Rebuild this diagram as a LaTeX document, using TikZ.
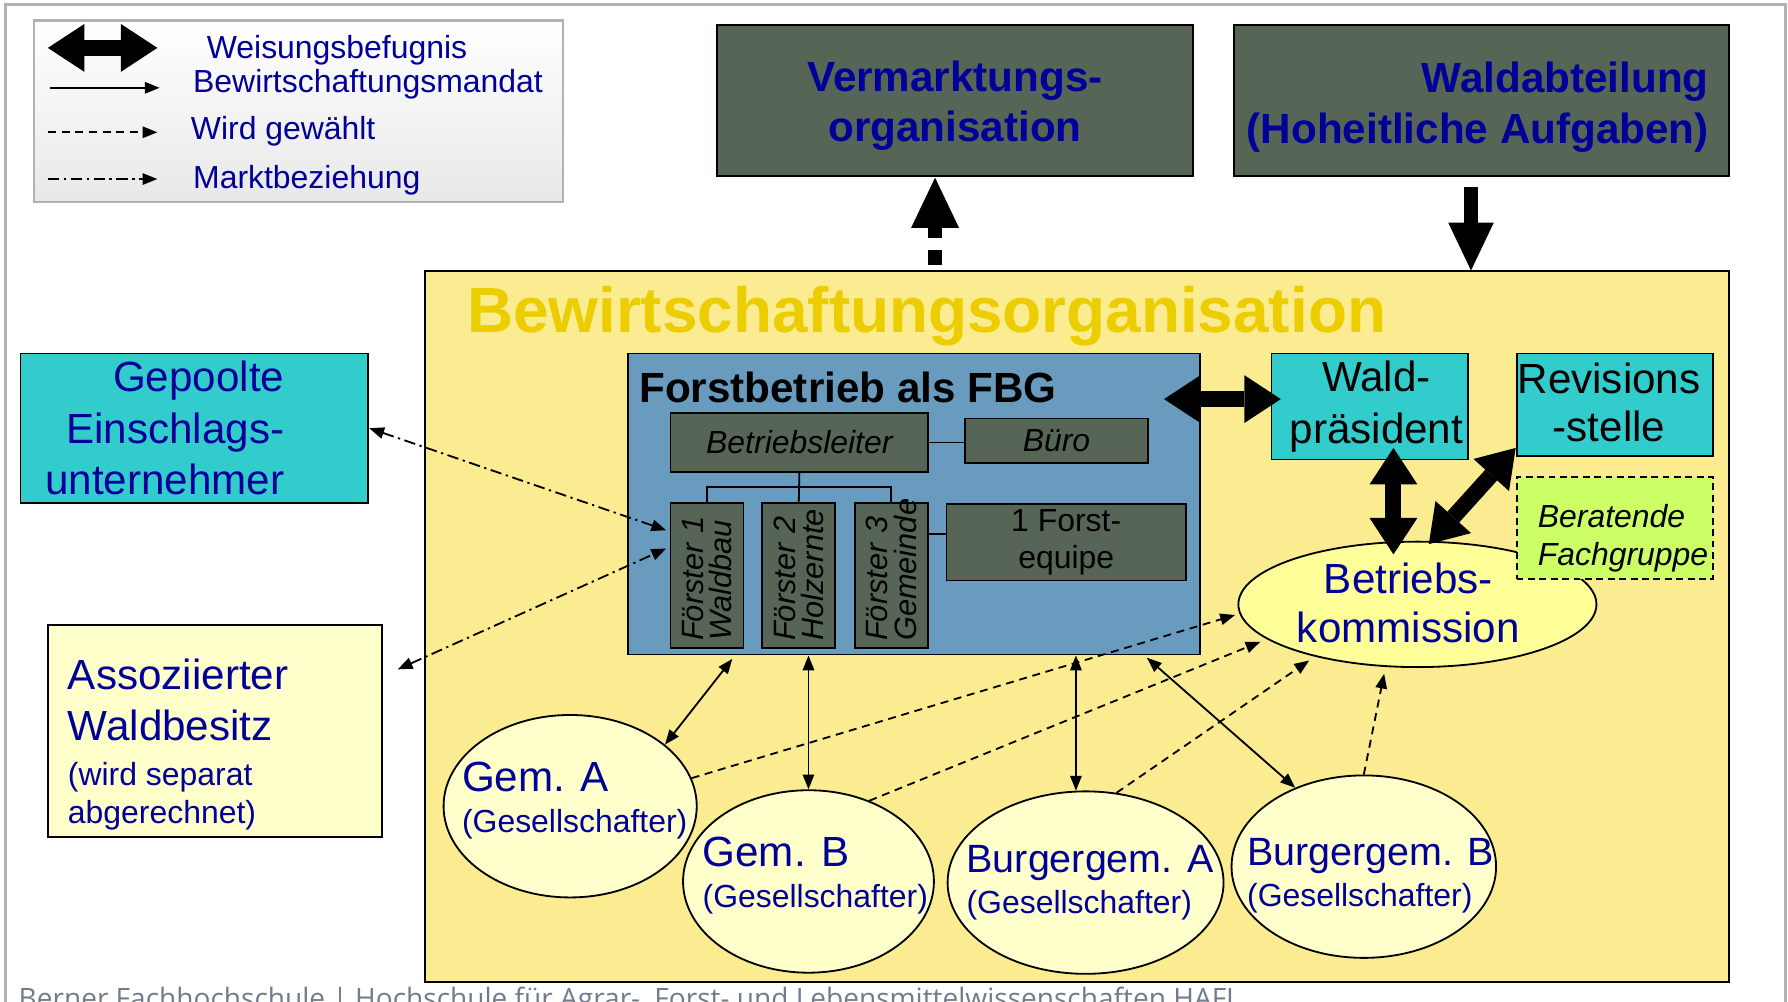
\documentclass[tikz,border=0pt]{standalone}
\usepackage{fontspec}
\setmainfont{Liberation Sans}
\newfontfamily\footfont{Open Sans}
\usetikzlibrary{arrows.meta, shapes.geometric, calc, positioning}

\definecolor{navy}{RGB}{0,0,153}
\definecolor{boxgreen}{RGB}{87,101,87}
\definecolor{fbblue}{RGB}{104,155,190}
\definecolor{cyanbox}{RGB}{51,204,204}
\definecolor{bwoyellow}{RGB}{251,236,146}
\definecolor{titleyellow}{RGB}{235,205,0}
\definecolor{paleyellow}{RGB}{255,255,204}
\definecolor{bkyellow}{RGB}{255,255,153}
\definecolor{limegreen}{RGB}{204,255,102}
\definecolor{footgray}{RGB}{112,124,138}

\newcommand{\bigtxt}{\fontsize{18.5}{22.5}\selectfont}
\newcommand{\smalltxt}{\fontsize{14}{16.5}\selectfont}
\newcommand{\headtxt}{\bfseries\fontsize{18.5}{22}\selectfont}
\newcommand{\titletxt}{\bfseries\fontsize{28}{32}\selectfont}

\tikzset{
  box/.style={draw, line width=0.8pt, inner sep=0pt},
  darkbox/.style={box, fill=boxgreen},
  cyanbox/.style={box, fill=cyanbox},
  gemell/.style={box, ellipse, fill=paleyellow, minimum height=80pt},
  gemtext/.style={align=left, inner sep=0pt, text=navy, font=\fontsize{14}{18}\selectfont},
  foerster/.style={darkbox, rotate=90, minimum width=63.5pt, minimum height=32pt,
    text width=57.5pt, align=left, inner xsep=3pt, font=\itshape\fontsize{13.5}{12.5}\selectfont},
  legtext/.style={anchor=west, inner sep=0pt, text=navy, font=\smalltxt},
  mandat/.style={line width=0.8pt},
  wahl/.style={line width=0.8pt, dash pattern=on 3.5pt off 2.5pt},
  markt/.style={line width=0.8pt, dash pattern=on 5pt off 2pt on 1pt off 2pt},
  weisung/.style={line width=7pt,
    {Triangle[width=21pt,length=16pt,line width=0pt]}-{Triangle[width=21pt,length=16pt,line width=0pt]}},
}

\begin{document}
\begin{tikzpicture}[x=0.5pt, y=-0.5pt, >={Triangle[width=5pt,length=6.5pt]}]
\path[use as bounding box, clip] (0,0) rectangle (1568,878);
\draw[gray!60, line width=1.2pt] (5,900) -- (5,4) -- (1566,4) -- (1566,900);

% legend
\node[draw=gray!60, line width=1pt, top color=white, bottom color=gray!18,
  minimum width=232pt, minimum height=79.5pt] (leg) at (262,97.5) {};
\coordinate (w1) at (42,42);  \coordinate (w2) at (138,42);
\coordinate (m1) at (44,77);  \coordinate (m2) at (140,77);
\coordinate (g1) at (42,116); \coordinate (g2) at (138,116);
\coordinate (k1) at (42,157); \coordinate (k2) at (138,157);
\draw[weisung] (w1) -- (w2);
\draw[mandat, ->] (m1) -- (m2);
\draw[wahl, ->] (g1) -- (g2);
\draw[markt, ->] (k1) -- (k2);
\node[legtext] (lw) at (181,44) {Weisungsbefugnis};
\node[legtext] (lm) at (169,74) {Bewirtschaftungsmandat};
\node[legtext] (lg) at (167,115) {Wird gewählt};
\node[legtext] (lk) at (169,158) {Marktbeziehung};

% top boxes
\node[darkbox, minimum width=208.5pt, minimum height=66pt] (vm) at (837.5,88) {};
\node[align=center, inner sep=0pt, text=navy, font=\headtxt] (vmt)
  at ($(vm)+(0,5)$) {Vermarktungs-\\organisation};
\node[darkbox, minimum width=217pt, minimum height=66pt] (wa) at (1299,88) {};
\node[anchor=east, align=right, inner sep=0pt, text=navy, font=\headtxt] (wat)
  at ($(wa.east)+(-18,6)$) {Waldabteilung\\(Hoheitliche Aufgaben)};

% Bewirtschaftungsorganisation
\node[box, fill=bwoyellow, minimum width=571.5pt, minimum height=311.5pt] (bwo) at (944.5,549.5) {};
\node[anchor=base west, inner sep=0pt, text=titleyellow, font=\titletxt] (bwot)
  at ($(bwo.north west)+(37,54)$) {Bewirtschaftungsorganisation};

% Forstbetrieb
\node[box, fill=fbblue, minimum width=250.5pt, minimum height=132pt] (fb) at (801.5,442) {};
\node[anchor=base west, inner sep=0pt, font=\headtxt] (fbt)
  at ($(fb.north west)+(10,44)$) {Forstbetrieb als FBG};
\node[darkbox, minimum width=113pt, minimum height=26pt, font=\itshape\smalltxt] (bl) at (701,388) {Betriebsleiter};
\node[darkbox, minimum width=80.5pt, minimum height=19.5pt, font=\itshape\smalltxt] (buero) at (926.5,386.5) {Büro};
\node[foerster] (f1) at (620,504.5) {Förster 1\\Waldbau};
\node[foerster] (f2) at (700.5,504.5) {Förster 2\\Holzernte};
\node[foerster] (f3) at (781.5,504.5) {Förster 3\\Gemeinde};
\node[darkbox, minimum width=105pt, minimum height=33.5pt, align=center, font=\smalltxt] (fe) at (935,475.5) {1 Forst-\\equipe};
\draw[line width=0.8pt] (bl.east) -- (bl.east -| buero.west);
\draw[line width=0.8pt] (bl.south) -- (f2.east);
\draw[line width=0.8pt] (f1.east) -- ++(0,-13) -| (f3.east);
\draw[line width=0.8pt] ([yshift=3.5pt]fe.west) -- ([yshift=3.5pt]fe.west -| f3.south);

% right side
\node[cyanbox, minimum width=86pt, minimum height=46.5pt] (wp) at (1201,356.5) {};
\node[align=center, inner sep=0pt, font=\bigtxt] (wpt) at ($(wp)+(6,0)$) {Wald-\\präsident};
\node[cyanbox, minimum width=86pt, minimum height=45pt] (rs) at (1416,355) {};
\node[align=center, inner sep=0pt, font=\fontsize{18.5}{21}\selectfont] (rst)
  at ($(rs)+(-5,-2)$) {Revisions\\-stelle};
\node[box, ellipse, fill=bkyellow, minimum width=157pt, minimum height=55pt] (bk) at (1243,530) {};
\node[align=center, inner sep=0pt, text=navy, font=\fontsize{18.5}{21.5}\selectfont] (bkt)
  at ($(bk)+(-8,-1.5)$) {Betriebs-\\kommission};
\node[box, dash pattern=on 3pt off 2pt, fill=limegreen, minimum width=86pt, minimum height=45pt] (bf) at (1416,463) {};
\node[anchor=west, align=left, inner sep=0pt, font=\itshape\smalltxt] (bft)
  at ($(bf.west)+(19,9)$) {Beratende\\Fachgruppe};

% left side
\node[cyanbox, minimum width=152.5pt, minimum height=65.5pt] (gp) at (170.5,375.5) {};
\node[anchor=east, align=right, inner sep=0pt, text=navy, font=\bigtxt] (gpt)
  at ($(gp.east)+(-74,0)$) {Gepoolte\\Einschlags-\\unternehmer};
\node[box, fill=paleyellow, minimum width=146.5pt, minimum height=93pt] (aw) at (188.5,641) {};
\node[anchor=west, align=left, inner sep=0pt, text=navy, font=\smalltxt] (awt)
  at ($(aw.west)+(18,12)$)
  {{\fontsize{18.5}{22}\selectfont Assoziierter}\\[5.5pt]{\fontsize{18.5}{22}\selectfont Waldbesitz}\\[3.5pt](wird separat\\abgerechnet)};

% Gesellschafter
\node[gemell, minimum width=111pt] (ga) at (500,707) {};
\node[gemell, minimum width=110pt] (gb) at (709,773) {};
\node[gemell, minimum width=121pt] (ba) at (952,774) {};
\node[gemell, minimum width=116pt] (bb) at (1196,760) {};
\node[gemtext] (gat) at ($(ga)+(4,-5)$) {{\fontsize{18.5}{22}\selectfont Gem. A}\\(Gesellschafter)};
\node[gemtext] (gbt) at ($(gb)+(6,-5)$) {{\fontsize{18.5}{22}\selectfont Gem. B}\\(Gesellschafter)};
\node[gemtext] (bat) at ($(ba)+(4,0)$) {{\fontsize{17.3}{22}\selectfont Burgergem. A}\\(Gesellschafter)};
\node[gemtext] (bbt) at ($(bb)+(6,8)$) {{\fontsize{17.3}{22}\selectfont Burgergem. B}\\(Gesellschafter)};

% Weisungsbefugnis
\draw[weisung] ($(fb.east)+(-32,-92)$) -- ($(wp.west)+(9,-6.5)$);
\draw[weisung] ($(wp.south)+(21,-11)$) -- ($(bk.north)+(-21,12)$);
\draw[weisung] ($(rs.south west)+(0,-8)$) -- ($(bk.north)+(10,3)$);
\draw[line width=6pt, dash pattern=on 7pt off 5pt, -{Triangle[width=21pt,length=22pt,line width=0pt]}]
  ($(vm.south)+(-17.5,78)$) -- ($(vm.south)+(-17.5,1)$);
\draw[line width=6pt, -{Triangle[width=20pt,length=21pt,line width=0pt]}]
  ($(wa.south)+(-9,9)$) coordinate (wq) -- (wq |- bwo.north);

% Bewirtschaftungsmandat
\draw[mandat, <->] (ga.33) -- ($(fb.south west)+(92,3)$);
\draw[mandat, <->] (gb.north) -- (gb.north |- fb.south);
\draw[mandat, <->] (ba.96) -- (ba.96 |- fb.south);
\draw[mandat, <->] (bb.131) -- ($(fb.south east)+(-47,2)$);

% Wird gewaehlt
\draw[wahl, ->, shorten >=2pt] (ga.13) -- (bk.183);
\draw[wahl, ->, shorten >=3pt] (gb.53) -- (bk.193);
\draw[wahl, ->, shorten >=3pt] (ba.71) -- (bk.207);
\draw[wahl, ->, shorten >=3pt] (bb.north) -- (bk.243);

% Marktbeziehung
\draw[markt, <->] (gp.east) -- ($(f1.north)+(-3,-39.5)$);
\draw[markt, <->] ($(aw.east)+(13,-54)$) -- ($(f1.north)+(-3,-23.5)$);

% footer
\node[anchor=base west, inner sep=0pt, text=footgray, font=\footfont\fontsize{12.3}{14}\selectfont] (foot)
  at (16,884) {Berner Fachhochschule | Hochschule für Agrar-, Forst- und Lebensmittelwissenschaften HAFL};
\end{tikzpicture}
\end{document}
